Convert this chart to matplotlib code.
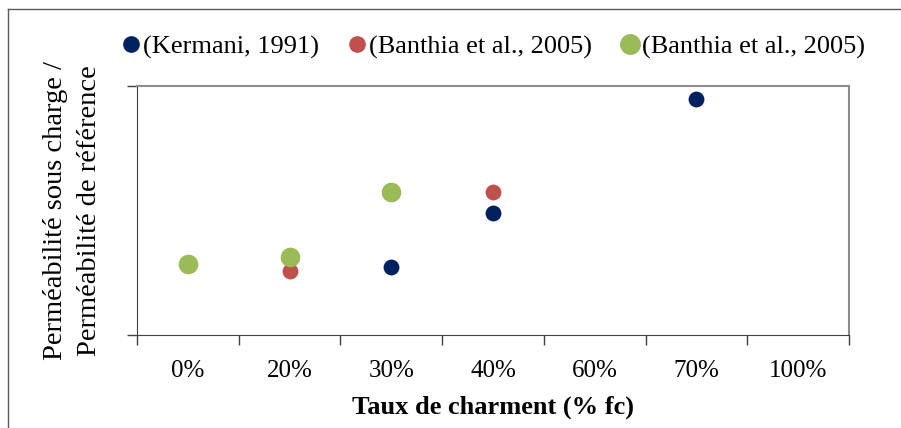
import matplotlib.pyplot as plt
from matplotlib.lines import Line2D

categories = ["0%", "20%", "30%", "40%", "60%", "70%", "100%"]

# (category index, value) pairs per source
kermani_x = [2, 3, 5]
kermani_y = [2.73, 4.90, 9.48]
banthia_red_x = [1, 3]
banthia_red_y = [2.57, 5.74]
banthia_green_x = [0, 1, 2]
banthia_green_y = [2.85, 3.13, 5.74]

labels = ["(Kermani, 1991)", "(Banthia et al., 2005)", "(Banthia et al., 2005)"]
colors = ["#002060", "#C0504D", "#9BBB59"]

plt.rcParams["font.family"] = ["Liberation Serif", "DejaVu Serif"]

fig = plt.figure(figsize=(9.01, 4.28), dpi=100)
ax = fig.add_axes([137 / 901, 1 - 335 / 428, (849 - 137) / 901, (335 - 86) / 428])

ax.scatter(kermani_x, kermani_y, s=130, color=colors[0], zorder=3, linewidths=0)
ax.scatter(banthia_red_x, banthia_red_y, s=130, color=colors[1], zorder=3, linewidths=0)
ax.scatter(banthia_green_x, banthia_green_y, s=200, color=colors[2], zorder=3, linewidths=0)

ax.set_xlim(-0.5, len(categories) - 0.5)
ax.set_ylim(0, 10)
ax.set_xticks([i - 0.5 for i in range(len(categories) + 1)])
ax.set_xticklabels([])
ax.set_xticks(range(len(categories)), minor=True)
ax.set_xticklabels(categories, minor=True, fontsize=18)
ax.tick_params(axis="x", which="minor", length=0, pad=18)
ax.tick_params(axis="x", which="major", length=7, width=1, color="#404040")
ax.set_yticks([0, 10])
ax.set_yticklabels([])
ax.tick_params(axis="y", length=7, width=1, color="#404040")

for side in ["left", "bottom"]:
    ax.spines[side].set_color("#404040")
for side in ["top", "right"]:
    ax.spines[side].set_color("#8c8c8c")
    ax.spines[side].set_linewidth(1.5)

ax.set_xlabel("Taux de charment (% fc)", fontsize=19, fontweight="bold", labelpad=10)
ax.set_ylabel("Perméabilité sous charge /\nPerméabilité de référence", fontsize=20.5,
              linespacing=1.45, labelpad=15)

handles = [
    Line2D([], [], marker="o", linestyle="", color=colors[0], markersize=11),
    Line2D([], [], marker="o", linestyle="", color=colors[1], markersize=11),
    Line2D([], [], marker="o", linestyle="", color=colors[2], markersize=14),
]
fig.legend(handles, labels, loc="center", bbox_to_anchor=(492 / 901, 1 - 47 / 428),
           ncol=3, frameon=False, fontsize=19, handletextpad=0.0, columnspacing=1.0,
           handlelength=0.9, borderaxespad=0)

# outer chart border
fig.add_artist(Line2D([8 / 901, 8 / 901], [0, 1 - 9 / 428], transform=fig.transFigure,
                      color="#595959", linewidth=1))
fig.add_artist(Line2D([8 / 901, 1], [1 - 9 / 428, 1 - 9 / 428], transform=fig.transFigure,
                      color="#595959", linewidth=1))

fig.savefig("out.png", dpi=100)
